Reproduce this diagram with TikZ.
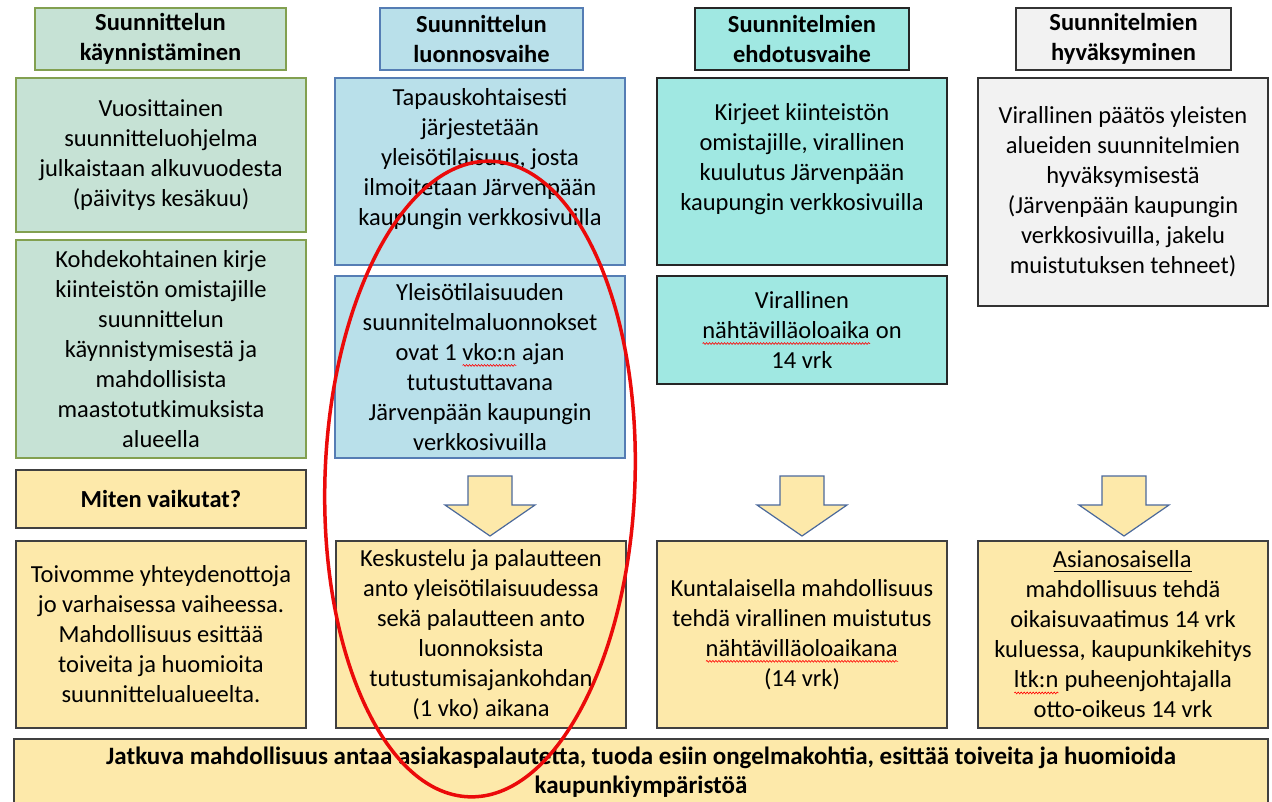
\documentclass[tikz,border=0pt]{standalone}
\usepackage{fontspec}
\setmainfont{Carlito}
\usetikzlibrary{calc,decorations.pathmorphing}

\definecolor{greenfill}{RGB}{198,226,213}
\definecolor{greenline}{RGB}{130,160,80}
\definecolor{bluefill}{RGB}{185,224,234}
\definecolor{blueline}{RGB}{85,125,180}
\definecolor{aquafill}{RGB}{160,232,226}
\definecolor{grayfill}{RGB}{242,242,242}
\definecolor{yellowfill}{RGB}{253,233,170}
\definecolor{arrowline}{RGB}{75,105,155}
\definecolor{ringred}{RGB}{235,10,10}

% red wavy spelling mark and plain underline
\newlength\marklen
\newcommand\spellmark[1]{\settowidth\marklen{#1}\rlap{#1}\tikz[baseline=0pt,x=1pt,y=1pt]
  \draw[red,line width=0.6pt,decorate,decoration={snake,amplitude=0.9pt,segment length=3pt}] (0,-5) -- (\marklen,-5);}
\newcommand\underlined[1]{\settowidth\marklen{#1}\rlap{#1}\tikz[baseline=0pt,x=1pt,y=1pt]
  \draw[black,line width=1.5pt] (0,-3.5) -- (\marklen,-3.5);}

\begin{document}
\begin{tikzpicture}[x=1pt,y=-1pt,
  box/.style={draw,line width=1.6pt,inner sep=0pt,align=center,
    font=\fontsize{24.5}{30}\selectfont,minimum width=290pt},
  headbox/.style={box,font=\fontsize{24.5}{30}\selectfont\bfseries,minimum height=62pt},
  green/.style={fill=greenfill,draw=greenline},
  blue/.style={fill=bluefill,draw=blueline},
  aqua/.style={fill=aquafill,draw=black!85},
  gray/.style={fill=grayfill,draw=black!80},
  yellow/.style={fill=yellowfill,draw=black!75},
  blockarrow/.style={fill=yellowfill,draw=arrowline,line width=1.2pt,line join=miter}]
\clip (0,0) rectangle (1272,801);

% col-1
\node[headbox,green,minimum width=251pt] (h1) at (160.5,39) {Suunnittelun\\käynnistäminen};
\node[box,green,minimum height=154pt] (a1) at (161,155) {Vuosittainen\\suunnitteluohjelma\\julkaistaan alkuvuodesta\\(päivitys kesäkuu)};
\node[box,green,minimum height=218pt] (a2) at (161,349) {Kohdekohtainen kirje\\kiinteistön omistajille\\suunnittelun\\käynnistymisestä ja\\mahdollisista\\maastotutkimuksista\\alueella};
\node[box,yellow,font=\fontsize{24.5}{30}\selectfont\bfseries,minimum height=58pt] (miten) at (161,499) {Miten vaikutat?};
\node[box,yellow,minimum height=187pt] (a3) at (161,634.5) {Toivomme yhteydenottoja\\jo varhaisessa vaiheessa.\\Mahdollisuus esittää\\toiveita ja huomioita\\suunnittelualueelta.};

% col-2
\node[headbox,blue,minimum width=203pt] (h2) at (481.5,39) {Suunnittelun\\luonnosvaihe};
\node[box,blue,minimum height=187pt] (b1) at (480,171.5) {Tapauskohtaisesti\\järjestetään\\yleisötilaisuus, josta\\ilmoitetaan Järvenpään\\kaupungin verkkosivuilla\\\mbox{}};
\node[box,blue,minimum height=182pt] (b2) at (480,367) {Yleisötilaisuuden\\suunnitelmaluonnokset\\ovat 1 \spellmark{vko:n} ajan\\tutustuttavana\\Järvenpään kaupungin\\verkkosivuilla};
\node[box,yellow,minimum height=187pt] (b3) at (481,634.5) {Keskustelu ja palautteen\\anto yleisötilaisuudessa\\sekä palautteen anto\\luonnoksista\\tutustumisajankohdan\\(1 vko) aikana};

% col-3
\node[headbox,aqua,minimum width=214pt] (h3) at (802,39) {Suunnitelmien\\ehdotusvaihe};
\node[box,aqua,minimum height=187pt] (c1) at (802,171.5) {Kirjeet kiinteistön\\omistajille, virallinen\\kuulutus Järvenpään\\kaupungin verkkosivuilla\\\mbox{}};
\node[box,aqua,minimum height=108pt] (c2) at (802,330) {Virallinen\\\spellmark{nähtävilläoloaika} on\\14 vrk};
\node[box,yellow,minimum height=187pt] (c3) at (802,634.5) {Kuntalaisella mahdollisuus\\tehdä virallinen muistutus\\\spellmark{nähtävilläoloaikana}\\(14 vrk)};

% col-4
\node[headbox,gray,minimum width=215pt] (h4) at (1123.5,39) {Suunnitelmien\\hyväksyminen};
\node[box,gray,minimum height=228pt] (d1) at (1123,192) {Virallinen päätös yleisten\\alueiden suunnitelmien\\hyväksymisestä\\(Järvenpään kaupungin\\verkkosivuilla, jakelu\\muistutuksen tehneet)};
\node[box,yellow,minimum height=187pt] (d3) at (1123,634.5) {\underlined{Asianosaisella}\\mahdollisuus tehdä\\oikaisuvaatimus 14 vrk\\kuluessa, kaupunkikehitys\\\spellmark{ltk:n} puheenjohtajalla\\otto-oikeus 14 vrk};

% bottom row
\node[box,yellow,anchor=north,minimum width=1254pt,minimum height=67pt,
  font=\fontsize{25}{29}\selectfont\bfseries] (jatkuva) at (641,738)
  {Jatkuva mahdollisuus antaa asiakaspalautetta, tuoda esiin ongelmakohtia, esittää toiveita ja huomioida\\kaupunkiympäristöä};

% arrows
\foreach \name/\x in {b/490,c/802,d/1124}{
\coordinate (\name top) at (\x,476);
\draw[blockarrow] (\name top) ++(-22,0) -- ++(44,0) -- ++(0,29) -- ++(23,0)
  -- ++(-45,31) -- ++(-45,-31) -- ++(23,0) -- cycle;
}

% red ring
\draw[ringred,line width=3.5pt,rotate around={-2:(480,479)}] (480,479) ellipse [x radius=155, y radius=318];
\end{tikzpicture}
\end{document}
